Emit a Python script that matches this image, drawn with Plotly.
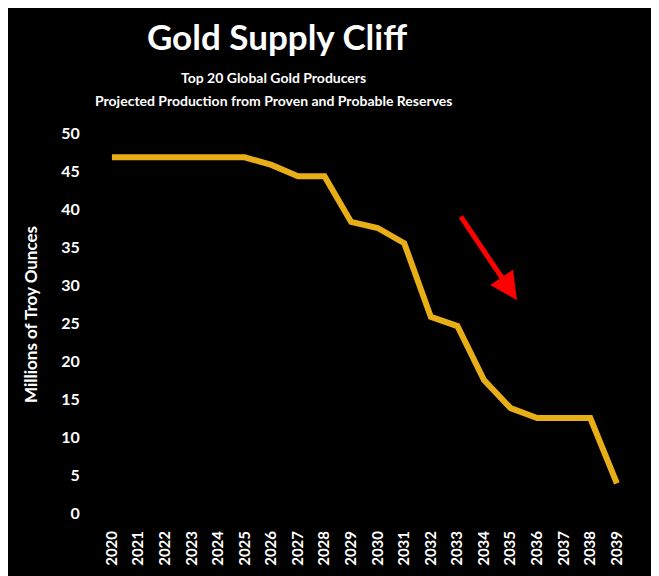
import plotly.graph_objects as go

years = list(range(2020, 2040))
production = [46.8, 46.8, 46.8, 46.8, 46.8, 46.8, 45.8, 44.3, 44.3, 38.3,
              37.5, 35.5, 25.8, 24.6, 17.5, 13.8, 12.5, 12.5, 12.5, 3.9]
year_labels = [str(y) for y in years]
y_ticks = [0, 5, 10, 15, 20, 25, 30, 35, 40, 45, 50]

FONT = "Lato"
GOLD = "#E8AE17"

# page body adds an 8px offset; figure sized to compensate
W, H = 651, 568
L, R, T, B = 80, 19, 125, 63
PW, PH = W - L - R, H - T - B

fig = go.Figure()
fig.add_trace(go.Scatter(
    x=years, y=production, mode="lines",
    line=dict(color=GOLD, width=6),
    hoverinfo="x+y", showlegend=False,
))

fig.update_layout(
    width=W, height=H,
    paper_bgcolor="black", plot_bgcolor="black",
    margin=dict(l=L, r=R, t=T, b=B),
    title=dict(
        text="<b>Gold Supply Cliff</b>",
        x=269 / W, xanchor="center", xref="container",
        y=1 - 30 / H, yanchor="middle", yref="container",
        font=dict(family=FONT, size=35, color="white"),
    ),
    xaxis=dict(
        range=[2020 - 0.9, 2039 + 0.87],
        tickmode="array", tickvals=years, ticktext=year_labels,
        tickangle=-90, showgrid=False, zeroline=False, showline=False,
        ticks="outside", ticklen=11, tickcolor="black",
        tickfont=dict(family=FONT, size=15, color="white", weight="bold"),
        automargin=False,
    ),
    yaxis=dict(
        range=[0, 50], tickmode="array", tickvals=y_ticks,
        showgrid=False, zeroline=False, showline=False,
        ticks="outside", ticklen=4, tickcolor="black",
        tickfont=dict(family=FONT, size=16, color="white", weight="bold"),
        automargin=False,
    ),
    font=dict(family=FONT, color="white"),
)

subtitle_lines = ["Top 20 Global Gold Producers",
                  "Projected Production from Proven and Probable Reserves"]
subtitle_y = [69, 92]
for txt, yy in zip(subtitle_lines, subtitle_y):
    fig.add_annotation(
        text=f"<b>{txt}</b>",
        xref="paper", yref="paper", x=(265 - L) / PW, y=(H - B - yy) / PH,
        xanchor="center", yanchor="middle", showarrow=False,
        font=dict(family=FONT, size=14, color="white"),
    )

fig.add_annotation(
    text="<b>Millions of Troy Ounces</b>",
    xref="paper", yref="paper", x=(22 - L) / PW, y=(H - B - 307) / PH,
    xanchor="center", yanchor="middle", showarrow=False, textangle=-90,
    font=dict(family=FONT, size=17, color="white"),
)

# red trend arrow
arrow_head = (2035.24, 28.0)
arrow_tail = (2033.09, 39.2)
fig.add_annotation(
    x=arrow_head[0], y=arrow_head[1], ax=arrow_tail[0], ay=arrow_tail[1],
    xref="x", yref="y", axref="x", ayref="y",
    text="", showarrow=True, arrowhead=2, arrowsize=1.1, arrowwidth=5,
    arrowcolor="#FF0000",
)

fig.write_html("out.html")
